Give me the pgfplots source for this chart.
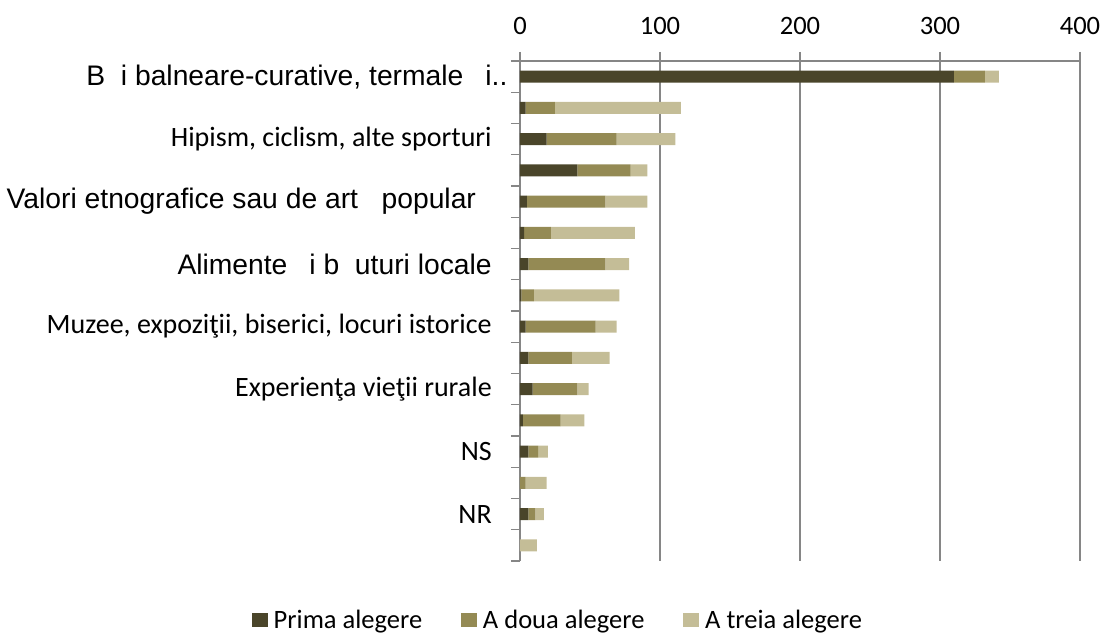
\documentclass[border=0pt]{standalone}
\usepackage{fontspec}
\setmainfont{Carlito}
\newfontfamily\arialf{Liberation Sans}
\usepackage{pgfplots}
\pgfplotsset{compat=1.18}
\definecolor{c1}{HTML}{4A452A}
\definecolor{c2}{HTML}{948A54}
\definecolor{c3}{HTML}{C4BD97}
\definecolor{gridc}{HTML}{868686}
\newcommand{\tf}{\fontsize{19.9pt}{23pt}\selectfont}
\newcommand{\lf}{\fontsize{21pt}{24pt}\selectfont}
\newcommand{\af}{\arialf\fontsize{21.2pt}{24pt}\selectfont}
\begin{document}
\begin{tikzpicture}
\begin{axis}[
  at={(390pt,54.75pt)}, anchor=south west,
  scale only axis, width=420pt, height=375pt,
  xbar stacked, bar width=9pt,
  xmin=0, xmax=400,
  ymin=0.5, ymax=16.5, y dir=reverse,
  axis x line*=top, axis y line*=left,
  axis line style={gridc, line width=1pt, -},
  xtick={0,100,200,300,400},
  xtick pos=upper, xticklabel pos=upper,
  ytick pos=left, yticklabel pos=left,
  xmajorgrids, grid style={gridc, line width=1pt},
  tick align=outside,
  major tick length=6.75pt,
  tick style={gridc, line width=1pt},
  /pgf/number format/assume math mode=true,
  xticklabel style={font=\tf, inner sep=0pt, yshift=12.75pt},
  ytick={0.5,1.5,...,16.5},
  yticklabels={},
  extra y ticks={1,3,5,7,9,11,13,15},
  extra y tick labels={
    {\af B\kern.556em i balneare-curative, termale \kern.5em i\rlap{..}},
    {Hipism, ciclism, alte sporturi},
    {\af Valori etnografice sau de art\kern.556em\ popular\kern.556em},
    {\af Alimente \kern.5em i b\kern.556em uturi locale},
    {Muzee, expoziţii, biserici, locuri istorice},
    {Experienţa vieţii rurale},
    {NS},
    {NR}},
  extra y tick style={tick style={draw=none}, yticklabel style={font=\lf, inner sep=0pt, anchor=east, xshift=-14.25pt}},
  legend columns=3,
  legend style={at={(0.066,-0.118)}, anchor=center, draw=none, fill=none, font=\tf,
    /tikz/every odd column/.append style={column sep=4.5pt},
    /tikz/every even column/.append style={column sep=29.25pt},
    nodes={inner sep=0pt, anchor=west}},
  legend image code/.code={\fill[#1] (0pt,-5.6pt) rectangle (11.8pt,5.6pt);},
]
\addplot[fill=c1, draw=none] coordinates {
(310,1) (4,2) (19,3) (41,4) (5,5) (3,6) (6,7) (1,8)
(4,9) (6,10) (9,11) (2,12) (6,13) (0,14) (6,15) (0,16)};
\addplot[fill=c2, draw=none] coordinates {
(22,1) (21,2) (50,3) (38,4) (56,5) (19,6) (55,7) (9,8)
(50,9) (31,10) (32,11) (27,12) (7,13) (4,14) (5,15) (0,16)};
\addplot[fill=c3, draw=none] coordinates {
(10,1) (90,2) (42,3) (12,4) (30,5) (60,6) (17,7) (61,8)
(15,9) (27,10) (8,11) (17,12) (7,13) (15,14) (6,15) (12,16)};
\legend{Prima alegere, A doua alegere, A treia alegere}
\end{axis}
\pgfresetboundingbox
\path[use as bounding box] (0,0) rectangle (827.25pt,475.5pt);
\end{tikzpicture}
\end{document}
